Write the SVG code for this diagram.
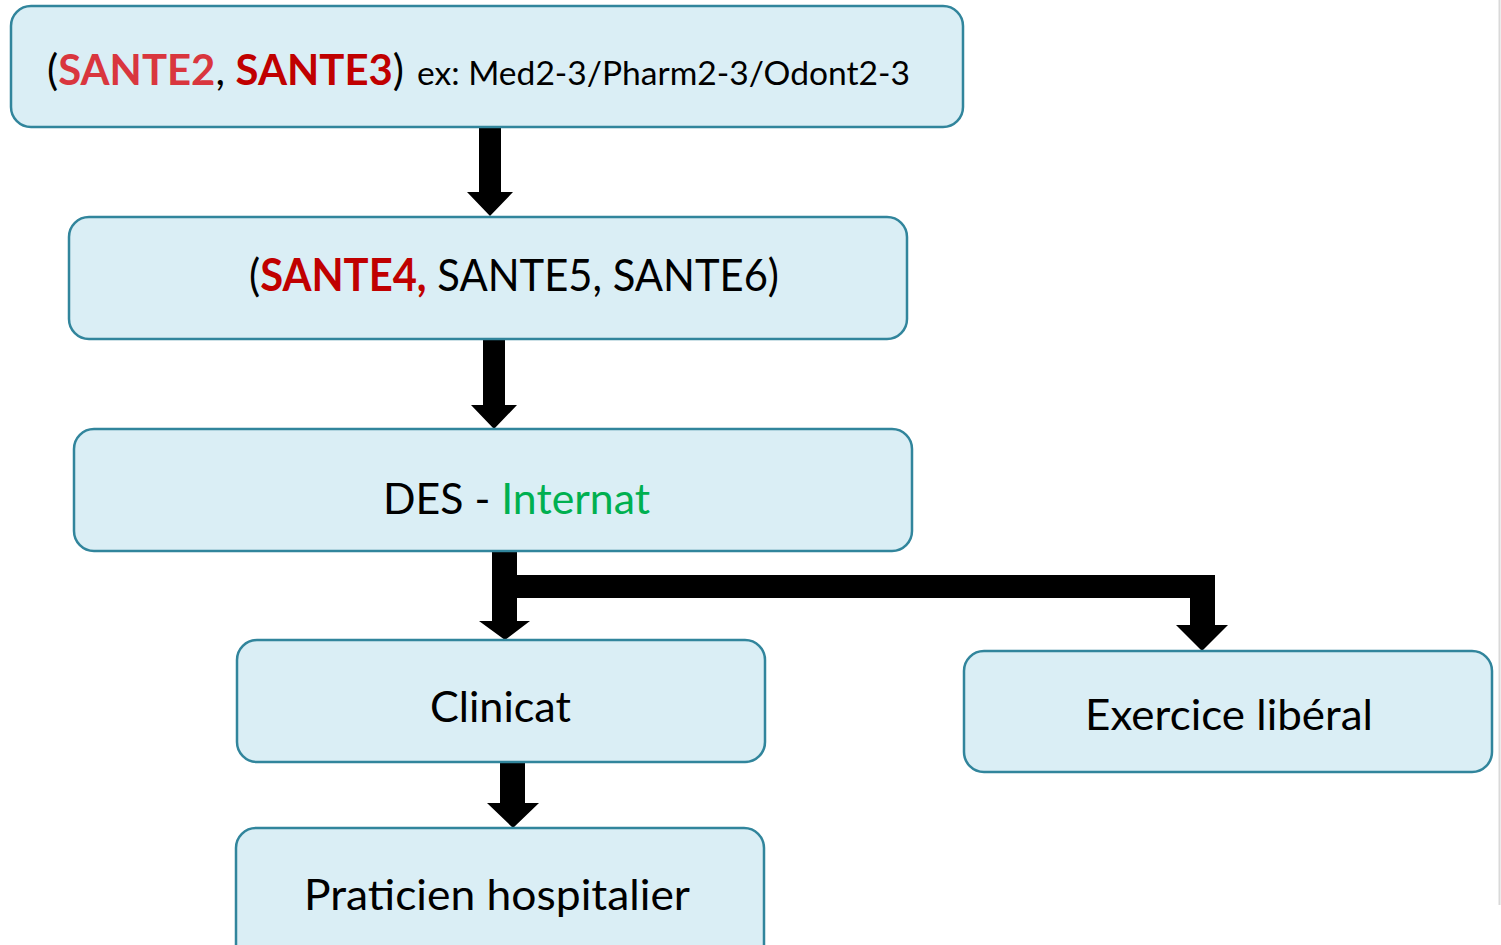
<svg xmlns="http://www.w3.org/2000/svg" width="1501" height="945" viewBox="0 0 1501 945">
<style>
.box{fill:#DAEEF5;stroke:#31859C;stroke-width:2.5}
.t{font-family:Lato,"Open Sans","Liberation Sans",sans-serif;fill:#000}
.arrow{fill:#000;stroke:none}
</style>
<rect width="1501" height="945" fill="#fff"/>
<line x1="1499.5" y1="0" x2="1499.5" y2="905" stroke="#d9d9d9" stroke-width="2"/>
<g id="connectors">
<polygon class="arrow" points="479,127 501,127 501,192 513,192 490,216 467,192 479,192"/>
<polygon class="arrow" points="483,339 505,339 505,405 517,405 494,429 471,405 483,405"/>
<polygon class="arrow" points="492,551 517,551 517,575 1215,575 1215,625 1228,625 1202,651 1176,625 1190,625 1190,598 517,598 517,621 530,621 505,640 479,621 492,621"/>
<polygon class="arrow" points="500,762 525,762 525,803 539,803 513,828 487,803 500,803"/>
</g>
<g id="n1">
<rect class="box" x="11" y="6" width="952" height="121" rx="20"/>
<text class="t" x="47" y="85" font-size="42" textLength="357" lengthAdjust="spacingAndGlyphs">(<tspan font-weight="bold" fill="#D9363E">SANTE2</tspan>, <tspan font-weight="bold" fill="#C00000">SANTE3</tspan>)</text>
<text class="t" x="417" y="85" font-size="32" textLength="493" lengthAdjust="spacingAndGlyphs">ex: Med2-3/Pharm2-3/Odont2-3</text>
</g>
<g id="n2">
<rect class="box" x="69" y="217" width="838" height="122" rx="20"/>
<text class="t" x="249" y="291" font-size="45" textLength="530" lengthAdjust="spacingAndGlyphs">(<tspan font-weight="bold" fill="#C00000">SANTE4,</tspan> SANTE5, SANTE6)</text>
</g>
<g id="n3">
<rect class="box" x="74" y="429" width="838" height="122" rx="20"/>
<text class="t" x="383" y="514" font-size="43" textLength="267" lengthAdjust="spacingAndGlyphs">DES - <tspan fill="#00B050">Internat</tspan></text>
</g>
<g id="n4">
<rect class="box" x="237" y="640" width="528" height="122" rx="20"/>
<text class="t" x="430" y="722" font-size="43" textLength="141" lengthAdjust="spacingAndGlyphs">Clinicat</text>
</g>
<g id="n5">
<rect class="box" x="964" y="651" width="528" height="121" rx="20"/>
<text class="t" x="1085" y="730" font-size="43" textLength="288" lengthAdjust="spacingAndGlyphs">Exercice libéral</text>
</g>
<g id="n6">
<rect class="box" x="236" y="828" width="528" height="140" rx="20"/>
<text class="t" x="304" y="910" font-size="43" textLength="386" lengthAdjust="spacingAndGlyphs">Praticien hospitalier</text>
</g>
</svg>
